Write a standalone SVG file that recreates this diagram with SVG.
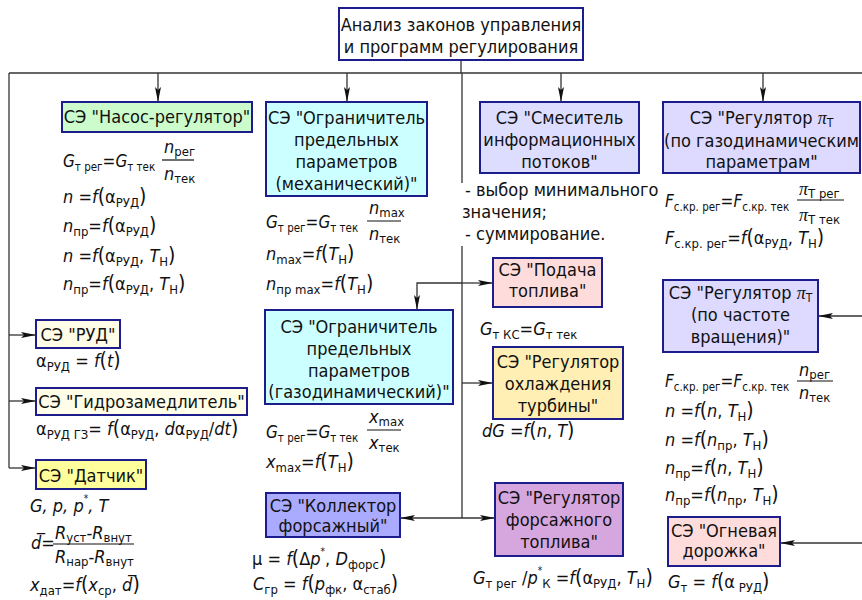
<svg xmlns="http://www.w3.org/2000/svg" width="862" height="600" viewBox="0 0 862 600">
<defs>
<style>
.box{stroke:#1c1c8c;stroke-width:2}
.lbl{font-family:"DejaVu Sans Condensed","DejaVu Sans",sans-serif;font-size:18px;fill:#111;text-anchor:middle}
.t{font-family:"DejaVu Sans Condensed","DejaVu Sans",sans-serif;font-size:18px;fill:#111}
.f{font-family:"DejaVu Sans Condensed","DejaVu Sans",sans-serif;font-size:18px;fill:#111}
.g{font-size:17px}
.i{font-style:italic}
.s{font-size:13px;font-style:normal}
.g .s{font-size:11.5px}
.p{font-size:21px;font-style:normal}
.pi{font-family:"Liberation Serif",serif;font-style:italic}
.bar{stroke:#111;stroke-width:1.2}
.c{stroke:#333;stroke-width:1.3;fill:none}
.a{marker-end:url(#ah)}
</style>
<marker id="ah" markerUnits="userSpaceOnUse" markerWidth="16" markerHeight="8" refX="15" refY="4" orient="auto-start-reverse">
<path d="M0,1 L15,4 L0,7 L3,4 Z" fill="#111"/>
</marker>
</defs>
<rect width="862" height="600" fill="#fff"/>

<g id="connectors">
<line class="c" x1="461" y1="60" x2="461" y2="73"/>
<line class="c" x1="9" y1="73" x2="862" y2="73"/>
<line class="c a" x1="158" y1="73" x2="158" y2="102"/>
<line class="c a" x1="347" y1="73" x2="347" y2="102"/>
<line class="c a" x1="561" y1="73" x2="561" y2="102"/>
<line class="c a" x1="763" y1="73" x2="763" y2="102"/>
<line class="c" x1="9" y1="73" x2="9" y2="468"/>
<line class="c a" x1="9" y1="335" x2="36" y2="335"/>
<line class="c a" x1="9" y1="401" x2="36" y2="401"/>
<line class="c a" x1="9" y1="468" x2="36" y2="468"/>
<line class="c" x1="462" y1="73" x2="462" y2="183"/>
<line class="c" x1="462" y1="246" x2="462" y2="518"/>
<polyline class="c a" points="462,283 417,283 417,310"/>
<line class="c a" x1="462" y1="283" x2="493" y2="283"/>
<line class="c a" x1="462" y1="383" x2="493" y2="383"/>
<line class="c a" x1="462" y1="518" x2="400" y2="518"/>
<line class="c a" x1="462" y1="518" x2="495" y2="518"/>
<line class="c a" x1="862" y1="316" x2="818" y2="316"/>
<line class="c a" x1="862" y1="543" x2="780" y2="543"/>
</g>

<g id="analysis">
<rect class="box" x="339" y="8" width="244" height="52" fill="#fff"/>
<text class="lbl" x="461" y="31">Анализ законов управления</text>
<text class="lbl" x="461" y="53">и программ регулирования</text>
</g>

<g id="nasos">
<rect class="box" x="62" y="102" width="190" height="30" fill="#ccfccc"/>
<text class="lbl" x="157" y="123">СЭ "Насос-регулятор"</text>
<text class="f g" x="63" y="167"><tspan class="i">G</tspan><tspan class="s" dy="4">т рег</tspan><tspan dy="-4">=</tspan><tspan class="i">G</tspan><tspan class="s" dy="4">т тек</tspan></text>
<text class="f" x="164" y="153"><tspan class="i">n</tspan><tspan class="s" dy="3">рег</tspan></text>
<line class="bar" x1="162" y1="160" x2="194" y2="160"/>
<text class="f" x="164" y="180"><tspan class="i">n</tspan><tspan class="s" dy="3">тек</tspan></text>
<text class="f" x="63" y="203"><tspan class="i">n</tspan> =<tspan class="i">f</tspan><tspan class="p">(</tspan>α<tspan class="s" dy="4">РУД</tspan><tspan class="p" dy="-4">)</tspan></text>
<text class="f" x="63" y="232"><tspan class="i">n</tspan><tspan class="s" dy="4">пр</tspan><tspan dy="-4">=</tspan><tspan class="i">f</tspan><tspan class="p">(</tspan>α<tspan class="s" dy="4">РУД</tspan><tspan class="p" dy="-4">)</tspan></text>
<text class="f" x="63" y="262"><tspan class="i">n</tspan> =<tspan class="i">f</tspan><tspan class="p">(</tspan>α<tspan class="s" dy="4">РУД</tspan><tspan dy="-4">, </tspan><tspan class="i">T</tspan><tspan class="s" dy="4">Н</tspan><tspan class="p" dy="-4">)</tspan></text>
<text class="f" x="63" y="290"><tspan class="i">n</tspan><tspan class="s" dy="4">пр</tspan><tspan dy="-4">=</tspan><tspan class="i">f</tspan><tspan class="p">(</tspan>α<tspan class="s" dy="4">РУД</tspan><tspan dy="-4">, </tspan><tspan class="i">T</tspan><tspan class="s" dy="4">Н</tspan><tspan class="p" dy="-4">)</tspan></text>
</g>

<g id="limiter-mech">
<rect class="box" x="266" y="102" width="161" height="94" fill="#ccffff"/>
<text class="lbl" x="346.5" y="124">СЭ "Ограничитель</text>
<text class="lbl" x="346.5" y="146">предельных</text>
<text class="lbl" x="346.5" y="168">параметров</text>
<text class="lbl" x="346.5" y="190">(механический)"</text>
<text class="f g" x="266" y="228"><tspan class="i">G</tspan><tspan class="s" dy="4">т рег</tspan><tspan dy="-4">=</tspan><tspan class="i">G</tspan><tspan class="s" dy="4">т тек</tspan></text>
<text class="f" x="369" y="214"><tspan class="i">n</tspan><tspan class="s" dy="3">max</tspan></text>
<line class="bar" x1="367" y1="221" x2="401" y2="221"/>
<text class="f" x="369" y="240"><tspan class="i">n</tspan><tspan class="s" dy="3">тек</tspan></text>
<text class="f" x="266" y="260"><tspan class="i">n</tspan><tspan class="s" dy="4">max</tspan><tspan dy="-4">=</tspan><tspan class="i">f</tspan><tspan class="p">(</tspan><tspan class="i">T</tspan><tspan class="s" dy="4">Н</tspan><tspan class="p" dy="-4">)</tspan></text>
<text class="f" x="266" y="290"><tspan class="i">n</tspan><tspan class="s" dy="4">пр max</tspan><tspan dy="-4">=</tspan><tspan class="i">f</tspan><tspan class="p">(</tspan><tspan class="i">T</tspan><tspan class="s" dy="4">Н</tspan><tspan class="p" dy="-4">)</tspan></text>
</g>

<g id="mixer">
<rect class="box" x="480" y="102" width="159" height="71" fill="#ddddff"/>
<text class="lbl" x="559.5" y="124">СЭ "Смеситель</text>
<text class="lbl" x="559.5" y="146">информационных</text>
<text class="lbl" x="559.5" y="168">потоков"</text>
<text class="t" x="465" y="196">- выбор минимального</text>
<text class="t" x="462" y="218">значения;</text>
<text class="t" x="465" y="240">- суммирование.</text>
</g>

<g id="reg-gasdyn">
<rect class="box" x="663" y="102" width="197" height="71" fill="#ddd9ff"/>
<text class="lbl" x="761.5" y="124">СЭ "Регулятор <tspan class="pi">π</tspan><tspan font-size="12" dy="3">Т</tspan></text>
<text class="lbl" x="761.5" y="147" font-size="17.6">(по газодинамическим</text>
<text class="lbl" x="761.5" y="168">параметрам"</text>
<text class="f g" x="665" y="207"><tspan class="i">F</tspan><tspan class="s" dy="4">с.кр. рег</tspan><tspan dy="-4">=</tspan><tspan class="i">F</tspan><tspan class="s" dy="4">с.кр. тек</tspan></text>
<text class="f" x="799" y="195"><tspan class="pi">π</tspan><tspan class="s" dy="3">Т рег</tspan></text>
<line class="bar" x1="797" y1="200" x2="844" y2="200"/>
<text class="f" x="799" y="221"><tspan class="pi">π</tspan><tspan class="s" dy="3">Т тек</tspan></text>
<text class="f" x="665" y="244"><tspan class="i">F</tspan><tspan class="s" dy="4">с.кр. рег</tspan><tspan dy="-4">=</tspan><tspan class="i">f</tspan><tspan class="p">(</tspan>α<tspan class="s" dy="4">РУД</tspan><tspan dy="-4">, </tspan><tspan class="i">T</tspan><tspan class="s" dy="4">Н</tspan><tspan class="p" dy="-4">)</tspan></text>
</g>

<g id="rud">
<rect class="box" x="36" y="320" width="84" height="28" fill="#fffde8"/>
<text class="lbl" x="78" y="341">СЭ "РУД"</text>
<text class="f" x="36" y="367">α<tspan class="s" dy="4">РУД</tspan><tspan dy="-4"> = </tspan><tspan class="i">f</tspan><tspan class="p">(</tspan><tspan class="i">t</tspan><tspan class="p">)</tspan></text>
</g>

<g id="hydro">
<rect class="box" x="36" y="388" width="211" height="27" fill="#fffde8"/>
<text class="lbl" x="141.5" y="408">СЭ "Гидрозамедлитель"</text>
<text class="f" x="36" y="435">α<tspan class="s" dy="4">РУД ГЗ</tspan><tspan dy="-4">= </tspan><tspan class="i">f</tspan><tspan class="p">(</tspan>α<tspan class="s" dy="4">РУД</tspan><tspan dy="-4">, </tspan><tspan class="i">d</tspan>α<tspan class="s" dy="4">РУД</tspan><tspan dy="-4">/</tspan><tspan class="i">dt</tspan><tspan class="p">)</tspan></text>
</g>

<g id="sensor">
<rect class="box" x="36" y="460" width="110" height="29" fill="#ffff9c"/>
<text class="lbl" x="91" y="482">СЭ "Датчик"</text>
<text class="f" x="30" y="512"><tspan class="i">G, p, p</tspan><tspan font-size="10" dy="-10">*</tspan><tspan class="i" dy="10">, T</tspan></text>
<text class="f" x="31" y="549"><tspan class="i">d̅</tspan>=</text>
<text class="f" x="55" y="539"><tspan class="i">R</tspan><tspan class="s" dy="3">уст</tspan><tspan dy="-3">-</tspan><tspan class="i">R</tspan><tspan class="s" dy="3">внут</tspan></text>
<line class="bar" x1="53" y1="544" x2="134" y2="544"/>
<text class="f" x="55" y="563"><tspan class="i">R</tspan><tspan class="s" dy="3">нар</tspan><tspan dy="-3">-</tspan><tspan class="i">R</tspan><tspan class="s" dy="3">внут</tspan></text>
<text class="f" x="30" y="591"><tspan class="i">x</tspan><tspan class="s" dy="4">дат</tspan><tspan dy="-4">=</tspan><tspan class="i">f</tspan><tspan class="p">(</tspan><tspan class="i">x</tspan><tspan class="s" dy="4">ср</tspan><tspan dy="-4">, </tspan><tspan class="i">d̅</tspan><tspan class="p">)</tspan></text>
</g>

<g id="limiter-gas">
<rect class="box" x="265" y="310" width="188" height="94" fill="#ccffff"/>
<text class="lbl" x="359" y="333">СЭ "Ограничитель</text>
<text class="lbl" x="359" y="355">предельных</text>
<text class="lbl" x="359" y="377">параметров</text>
<text class="lbl" x="359" y="398">(газодинамический)"</text>
<text class="f g" x="266" y="438"><tspan class="i">G</tspan><tspan class="s" dy="4">т рег</tspan><tspan dy="-4">=</tspan><tspan class="i">G</tspan><tspan class="s" dy="4">т тек</tspan></text>
<text class="f" x="369" y="423"><tspan class="i">x</tspan><tspan class="s" dy="3">max</tspan></text>
<line class="bar" x1="367" y1="430" x2="401" y2="430"/>
<text class="f" x="369" y="449"><tspan class="i">x</tspan><tspan class="s" dy="3">тек</tspan></text>
<text class="f" x="266" y="468"><tspan class="i">x</tspan><tspan class="s" dy="4">max</tspan><tspan dy="-4">=</tspan><tspan class="i">f</tspan><tspan class="p">(</tspan><tspan class="i">T</tspan><tspan class="s" dy="4">Н</tspan><tspan class="p" dy="-4">)</tspan></text>
</g>

<g id="collector">
<rect class="box" x="266" y="493" width="134" height="44" fill="#aaaaff"/>
<text class="lbl" x="333" y="512">СЭ "Коллектор</text>
<text class="lbl" x="333" y="532">форсажный"</text>
<text class="f" x="252" y="565">μ = <tspan class="i">f</tspan><tspan class="p">(</tspan>Δ<tspan class="i">p</tspan><tspan font-size="10" dy="-10">*</tspan><tspan dy="10">, </tspan><tspan class="i">D</tspan><tspan class="s" dy="4">форс</tspan><tspan class="p" dy="-4">)</tspan></text>
<text class="f" x="253" y="590"><tspan class="i">C</tspan><tspan class="s" dy="4">гр</tspan><tspan dy="-4"> = </tspan><tspan class="i">f</tspan><tspan class="p">(</tspan><tspan class="i">p</tspan><tspan class="s" dy="4">фк</tspan><tspan dy="-4">, α</tspan><tspan class="s" dy="4">стаб</tspan><tspan class="p" dy="-4">)</tspan></text>
</g>

<g id="fuel-supply">
<rect class="box" x="493" y="258" width="109" height="49" fill="#ffdcdc"/>
<text class="lbl" x="547.5" y="276">СЭ "Подача</text>
<text class="lbl" x="547.5" y="297">топлива"</text>
<text class="f" x="480" y="335"><tspan class="i">G</tspan><tspan class="s" dy="4">т КС</tspan><tspan dy="-4">=</tspan><tspan class="i">G</tspan><tspan class="s" dy="4">т тек</tspan></text>
</g>

<g id="cooling">
<rect class="box" x="493" y="347" width="130" height="72" fill="#ffefb4"/>
<text class="lbl" x="558" y="368">СЭ "Регулятор</text>
<text class="lbl" x="558" y="390">охлаждения</text>
<text class="lbl" x="558" y="412">турбины"</text>
<text class="f" x="482" y="437"><tspan class="i">dG</tspan> =<tspan class="i">f</tspan><tspan class="p">(</tspan><tspan class="i">n</tspan>, <tspan class="i">T</tspan><tspan class="p">)</tspan></text>
</g>

<g id="afterburner-fuel">
<rect class="box" x="495" y="483" width="128" height="73" fill="#d6a6de"/>
<text class="lbl" x="559" y="504">СЭ "Регулятор</text>
<text class="lbl" x="559" y="526">форсажного</text>
<text class="lbl" x="559" y="548">топлива"</text>
<text class="f" x="473" y="584"><tspan class="i">G</tspan><tspan class="s" dy="4">т рег</tspan><tspan dy="-4"> /</tspan><tspan class="i">p</tspan><tspan font-size="10" dy="-10">*</tspan><tspan class="s" dy="14">К</tspan><tspan dy="-4"> =</tspan><tspan class="i">f</tspan><tspan class="p">(</tspan>α<tspan class="s" dy="4">РУД</tspan><tspan dy="-4">, </tspan><tspan class="i">T</tspan><tspan class="s" dy="4">Н</tspan><tspan class="p" dy="-4">)</tspan></text>
</g>

<g id="reg-speed">
<rect class="box" x="663" y="280" width="155" height="72" fill="#ddd9ff"/>
<text class="lbl" x="740.5" y="299">СЭ "Регулятор <tspan class="pi">π</tspan><tspan font-size="12" dy="3">Т</tspan></text>
<text class="lbl" x="740.5" y="321">(по частоте</text>
<text class="lbl" x="740.5" y="343">вращения)"</text>
<text class="f g" x="665" y="387"><tspan class="i">F</tspan><tspan class="s" dy="4">с.кр. рег</tspan><tspan dy="-4">=</tspan><tspan class="i">F</tspan><tspan class="s" dy="4">с.кр. тек</tspan></text>
<text class="f" x="799" y="376"><tspan class="i">n</tspan><tspan class="s" dy="3">рег</tspan></text>
<line class="bar" x1="797" y1="381" x2="833" y2="381"/>
<text class="f" x="799" y="399"><tspan class="i">n</tspan><tspan class="s" dy="3">тек</tspan></text>
<text class="f" x="665" y="417"><tspan class="i">n</tspan> =<tspan class="i">f</tspan><tspan class="p">(</tspan><tspan class="i">n</tspan>, <tspan class="i">T</tspan><tspan class="s" dy="4">Н</tspan><tspan class="p" dy="-4">)</tspan></text>
<text class="f" x="665" y="446"><tspan class="i">n</tspan> =<tspan class="i">f</tspan><tspan class="p">(</tspan><tspan class="i">n</tspan><tspan class="s" dy="4">пр</tspan><tspan dy="-4">, </tspan><tspan class="i">T</tspan><tspan class="s" dy="4">Н</tspan><tspan class="p" dy="-4">)</tspan></text>
<text class="f" x="665" y="474"><tspan class="i">n</tspan><tspan class="s" dy="4">пр</tspan><tspan dy="-4">=</tspan><tspan class="i">f</tspan><tspan class="p">(</tspan><tspan class="i">n</tspan>, <tspan class="i">T</tspan><tspan class="s" dy="4">Н</tspan><tspan class="p" dy="-4">)</tspan></text>
<text class="f" x="665" y="501"><tspan class="i">n</tspan><tspan class="s" dy="4">пр</tspan><tspan dy="-4">=</tspan><tspan class="i">f</tspan><tspan class="p">(</tspan><tspan class="i">n</tspan><tspan class="s" dy="4">пр</tspan><tspan dy="-4">, </tspan><tspan class="i">T</tspan><tspan class="s" dy="4">Н</tspan><tspan class="p" dy="-4">)</tspan></text>
</g>

<g id="fire-track">
<rect class="box" x="668" y="517" width="112" height="49" fill="#ffdcdc"/>
<text class="lbl" x="724" y="537">СЭ "Огневая</text>
<text class="lbl" x="724" y="557">дорожка"</text>
<text class="f" x="668" y="588"><tspan class="i">G</tspan><tspan class="s" dy="4">т</tspan><tspan dy="-4"> = </tspan><tspan class="i">f</tspan><tspan class="p">(</tspan>α<tspan class="s" dy="4"> РУД</tspan><tspan class="p" dy="-4">)</tspan></text>
</g>
</svg>
